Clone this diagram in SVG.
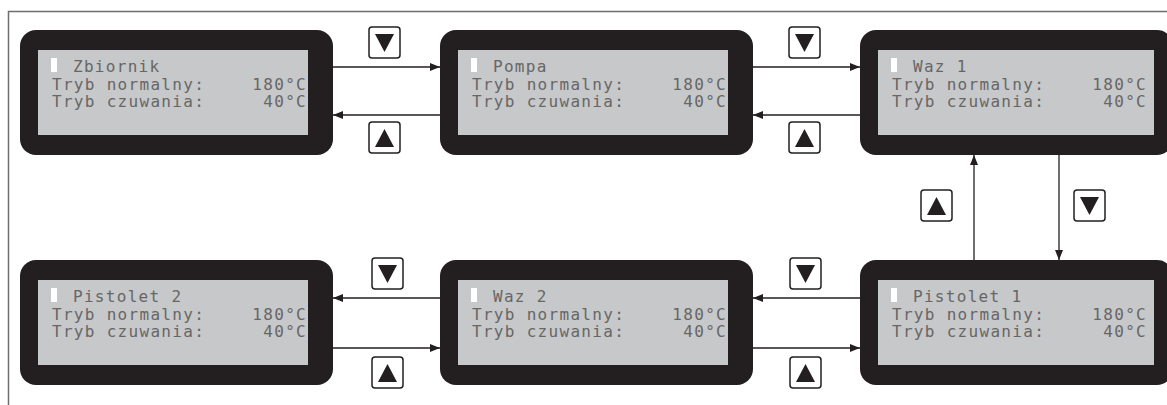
<svg xmlns="http://www.w3.org/2000/svg" width="1167" height="405" viewBox="0 0 1167 405">
<style>
.body{fill:#231f20}
.lcd{fill:#c7c8c9}
.cur{fill:#ffffff}
.t{font-family:"DejaVu Sans Mono","Liberation Mono",monospace;font-size:16px;fill:#666666;letter-spacing:1.3px}
.v{text-anchor:end}
.ln{stroke:#231f20;stroke-width:1.3;fill:none}
.btn{fill:#fff;stroke:#231f20;stroke-width:1.5}
.tri{fill:#231f20}
</style>
<defs>
<marker id="ah" viewBox="0 0 10 8" refX="10" refY="4" markerWidth="10" markerHeight="8" markerUnits="userSpaceOnUse" orient="auto">
<path d="M0,0 L10,4 L0,8 Z" fill="#231f20"/>
</marker>
<g id="down"><rect class="btn" x="0" y="0" width="31" height="31" rx="3"/><path class="tri" d="M6,7 L25,7 L15.5,25 Z"/></g>
<g id="up"><rect class="btn" x="0" y="0" width="31" height="31" rx="3"/><path class="tri" d="M6,25 L25,25 L15.5,7 Z"/></g>
</defs>
<rect x="0" y="0" width="1167" height="405" fill="#fff"/>
<path d="M8.5,405 L8.5,11.5 L1167,11.5" fill="none" stroke="#6d6e70" stroke-width="1.5"/>

<g id="n-zbiornik" transform="translate(20,30)">
<rect class="body" x="0" y="0" width="313" height="125" rx="16"/>
<rect class="lcd" x="18" y="20" width="270" height="85"/>
<rect class="cur" x="31" y="28" width="6" height="14"/>
<text class="t" x="53" y="42">Zbiornik</text>
<text class="t" x="32" y="60">Tryb normalny:</text>
<text class="t v" x="287" y="60">180°C</text>
<text class="t" x="32" y="77">Tryb czuwania:</text>
<text class="t v" x="287" y="77">40°C</text>
</g>

<g id="n-pompa" transform="translate(440,30)">
<rect class="body" x="0" y="0" width="313" height="125" rx="16"/>
<rect class="lcd" x="18" y="20" width="270" height="85"/>
<rect class="cur" x="31" y="28" width="6" height="14"/>
<text class="t" x="53" y="42">Pompa</text>
<text class="t" x="32" y="60">Tryb normalny:</text>
<text class="t v" x="287" y="60">180°C</text>
<text class="t" x="32" y="77">Tryb czuwania:</text>
<text class="t v" x="287" y="77">40°C</text>
</g>

<g id="n-waz1" transform="translate(860,30)">
<rect class="body" x="0" y="0" width="313" height="125" rx="16"/>
<rect class="lcd" x="18" y="20" width="276" height="85"/>
<rect class="cur" x="31" y="28" width="6" height="14"/>
<text class="t" x="53" y="42">Waz 1</text>
<text class="t" x="32" y="60">Tryb normalny:</text>
<text class="t v" x="287" y="60">180°C</text>
<text class="t" x="32" y="77">Tryb czuwania:</text>
<text class="t v" x="287" y="77">40°C</text>
</g>

<g id="n-pistolet2" transform="translate(20,260)">
<rect class="body" x="0" y="0" width="313" height="125" rx="16"/>
<rect class="lcd" x="18" y="20" width="270" height="85"/>
<rect class="cur" x="31" y="28" width="6" height="14"/>
<text class="t" x="53" y="42">Pistolet 2</text>
<text class="t" x="32" y="60">Tryb normalny:</text>
<text class="t v" x="287" y="60">180°C</text>
<text class="t" x="32" y="77">Tryb czuwania:</text>
<text class="t v" x="287" y="77">40°C</text>
</g>

<g id="n-waz2" transform="translate(440,260)">
<rect class="body" x="0" y="0" width="313" height="125" rx="16"/>
<rect class="lcd" x="18" y="20" width="270" height="85"/>
<rect class="cur" x="31" y="28" width="6" height="14"/>
<text class="t" x="53" y="42">Waz 2</text>
<text class="t" x="32" y="60">Tryb normalny:</text>
<text class="t v" x="287" y="60">180°C</text>
<text class="t" x="32" y="77">Tryb czuwania:</text>
<text class="t v" x="287" y="77">40°C</text>
</g>

<g id="n-pistolet1" transform="translate(860,260)">
<rect class="body" x="0" y="0" width="313" height="125" rx="16"/>
<rect class="lcd" x="18" y="20" width="276" height="85"/>
<rect class="cur" x="31" y="28" width="6" height="14"/>
<text class="t" x="53" y="42">Pistolet 1</text>
<text class="t" x="32" y="60">Tryb normalny:</text>
<text class="t v" x="287" y="60">180°C</text>
<text class="t" x="32" y="77">Tryb czuwania:</text>
<text class="t v" x="287" y="77">40°C</text>
</g>

<g id="connectors">
<line class="ln" x1="333" y1="67" x2="440" y2="67" marker-end="url(#ah)"/>
<line class="ln" x1="440" y1="115" x2="333" y2="115" marker-end="url(#ah)"/>
<line class="ln" x1="753" y1="67" x2="860" y2="67" marker-end="url(#ah)"/>
<line class="ln" x1="860" y1="115" x2="753" y2="115" marker-end="url(#ah)"/>
<line class="ln" x1="1059" y1="155" x2="1059" y2="260" marker-end="url(#ah)"/>
<line class="ln" x1="974" y1="260" x2="974" y2="155" marker-end="url(#ah)"/>
<line class="ln" x1="860" y1="298" x2="753" y2="298" marker-end="url(#ah)"/>
<line class="ln" x1="753" y1="348" x2="860" y2="348" marker-end="url(#ah)"/>
<line class="ln" x1="440" y1="298" x2="333" y2="298" marker-end="url(#ah)"/>
<line class="ln" x1="333" y1="348" x2="440" y2="348" marker-end="url(#ah)"/>
<use href="#down" x="369" y="27"/>
<use href="#up" x="369" y="122"/>
<use href="#down" x="789" y="27"/>
<use href="#up" x="789" y="122"/>
<use href="#up" x="921" y="190"/>
<use href="#down" x="1074" y="190"/>
<use href="#down" x="372" y="258"/>
<use href="#up" x="372" y="357"/>
<use href="#down" x="790" y="258"/>
<use href="#up" x="790" y="357"/>
</g>
</svg>
